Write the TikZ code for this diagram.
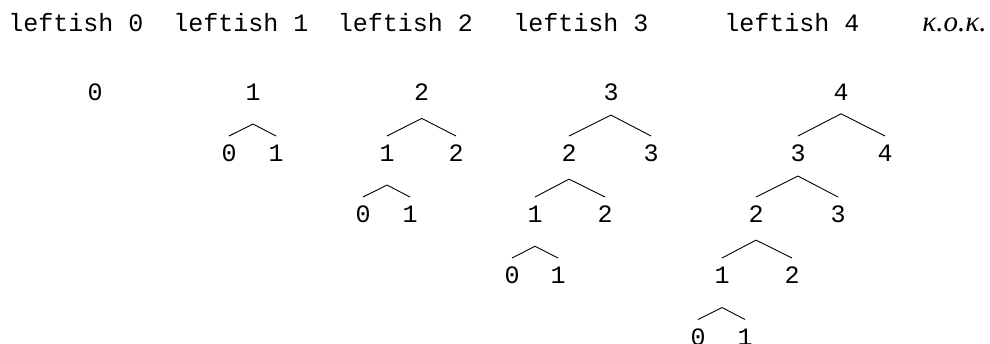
\documentclass[tikz,border=0pt]{standalone}
\usepackage{fontspec}
\setmonofont{Liberation Mono}
\newfontfamily\grkserif{Liberation Serif}
\usetikzlibrary{calc}

\tikzset{
  caption/.style={anchor=base, inner sep=0pt, font=\ttfamily\fontsize{25}{30}\selectfont},
  leaf/.style={anchor=base, inner sep=0pt, font=\ttfamily\fontsize{25}{30}\selectfont},
  branch/.style={line width=0.9pt, black},
}

% \twig{parent}{left child}{right child}: a roof whose ends sit above the
% children and whose apex sits under the parent, at a fixed slope
\newcommand\twig[3]{%
  \draw[branch] let \p1=(#2.base), \p2=(#3.base), \p3=(#1.base) in
    (\x1,\y1+26pt) -- (\x3,{\y1+26pt+0.255*(\x2-\x1)}) -- (\x2,\y1+26pt);}

\begin{document}
\begin{tikzpicture}[x=1pt,y=-1pt]
\useasboundingbox (0,0) rectangle (990,344);

% column headings
\node[caption] (h0) at (76,32)    {leftish 0};
\node[caption] (h1) at (241,32)   {leftish 1};
\node[caption] (h2) at (405.5,32) {leftish 2};
\node[caption] (h3) at (581,32)   {leftish 3};
\node[caption] (h4) at (792,32)   {leftish 4};
\node[anchor=base, inner sep=0pt, font=\grkserif\itshape\fontsize{29}{34}\selectfont]
  (etc) at (954.5,32) {κ.ο.κ.};

% tree 0
\node[leaf] (a0) at (95,101) {0};

% tree 1
\node[leaf] (b1)  at (253,101) {1};
\node[leaf] (b10) at (229,162) {0};
\node[leaf] (b11) at (276,162) {1};
\twig{b1}{b10}{b11}

% tree 2
\node[leaf] (c2)   at (421.7,101) {2};
\node[leaf] (c21)  at (387,162)   {1};
\node[leaf] (c22)  at (456,162)   {2};
\node[leaf] (c210) at (363,223)   {0};
\node[leaf] (c211) at (410,223)   {1};
\twig{c2}{c21}{c22}
\twig{c21}{c210}{c211}

% tree 3
\node[leaf] (d3)    at (611,101) {3};
\node[leaf] (d32)   at (569,162) {2};
\node[leaf] (d33)   at (651,162) {3};
\node[leaf] (d321)  at (535,223) {1};
\node[leaf] (d322)  at (605,223) {2};
\node[leaf] (d3210) at (512,284) {0};
\node[leaf] (d3211) at (558,284) {1};
\twig{d3}{d32}{d33}
\twig{d32}{d321}{d322}
\twig{d321}{d3210}{d3211}

% tree 4
\node[leaf] (e4)     at (841,101)   {4};
\node[leaf] (e43)    at (798,162)   {3};
\node[leaf] (e44)    at (885,162)   {4};
\node[leaf] (e432)   at (756,223)   {2};
\node[leaf] (e433)   at (838,223)   {3};
\node[leaf] (e4321)  at (722,284)   {1};
\node[leaf] (e4322)  at (792,284)   {2};
\node[leaf] (e43210) at (698,345.5) {0};
\node[leaf] (e43211) at (745,345.5) {1};
\twig{e4}{e43}{e44}
\twig{e43}{e432}{e433}
\twig{e432}{e4321}{e4322}
\twig{e4321}{e43210}{e43211}
\end{tikzpicture}
\end{document}
